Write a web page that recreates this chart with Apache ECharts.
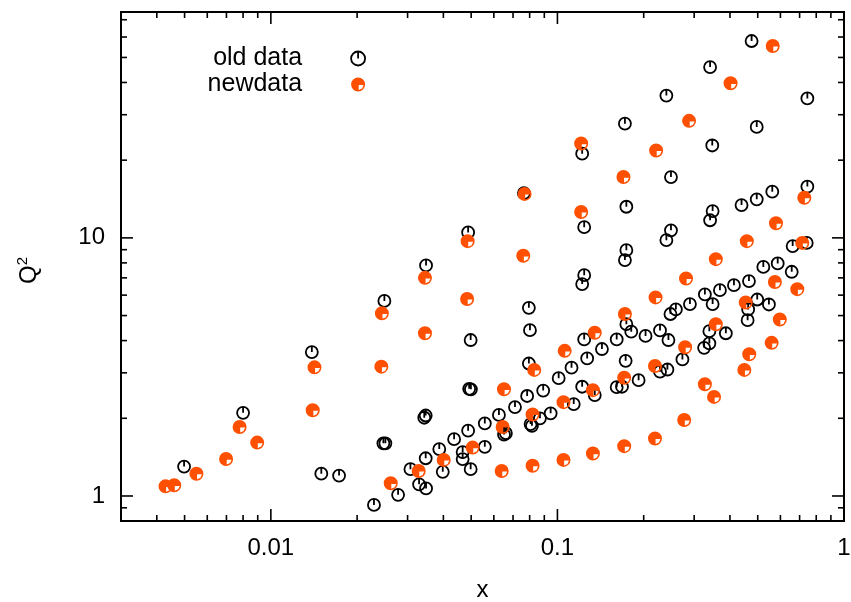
<!DOCTYPE html>
<html><head><meta charset="utf-8">
<script src="https://cdn.jsdelivr.net/npm/echarts@6/dist/echarts.min.js"></script>
<style>html,body{margin:0;padding:0;background:#fff}#c{width:851px;height:602px}</style>
</head><body><div id="c"></div>
<script>
// ---- data ----
const oldX = [0.00498,0.0080,0.0139,0.0150,0.0173,0.0229,0.0247,0.0251,0.0249,0.0278,
  0.0307,0.0329,0.0347,0.0343,0.0347,0.0348,0.0348,0.0387,0.0398,0.0436,
  0.0467,0.0467,0.0488,0.0488,0.0498,0.0498,0.0492,0.0499,0.0558,0.0558,
  0.0625,0.0661,0.0651,0.0711,0.0764,0.0795,0.0802,0.0795,0.0784,0.0806,
  0.0815,0.0869,0.0892,0.0947,0.101,0.112,0.114,0.122,0.124,0.124,
  0.122,0.124,0.127,0.122,0.135,0.143,0.161,0.161,0.168,0.172,
  0.174,0.174,0.172,0.174,0.173,0.181,0.192,0.203,0.228,0.228,
  0.242,0.244,0.240,0.249,0.249,0.240,0.248,0.259,0.273,0.290,
  0.327,0.325,0.339,0.339,0.341,0.347,0.348,0.341,0.348,0.369,
  0.387,0.413,0.439,0.466,0.463,0.461,0.476,0.496,0.496,0.498,
  0.523,0.547,0.562,0.587,0.657,0.662,0.741,0.745,0.745];
const oldQ2 = [1.30,2.10,3.61,1.22,1.20,0.923,1.60,1.60,5.70,1.01,
  1.27,1.11,1.40,2.01,2.05,1.07,7.82,1.52,1.24,1.66,
  1.48,1.39,1.79,10.5,1.27,4.02,2.60,2.59,1.91,1.55,
  2.06,1.75,1.73,2.21,14.9,5.36,4.39,3.26,2.44,1.90,
  1.87,2.00,2.56,2.09,2.86,3.14,2.27,21.2,11.0,7.17,
  6.62,4.04,3.41,2.65,2.46,3.71,4.04,2.64,2.65,27.7,
  13.2,8.96,8.20,4.63,3.34,4.33,2.81,4.17,4.38,3.03,
  3.09,4.02,35.6,17.2,10.7,9.80,5.07,5.28,3.38,5.54,
  6.04,3.75,3.90,4.35,45.9,22.8,12.7,11.7,5.54,6.27,
  4.27,6.56,13.4,6.80,5.28,4.80,57.9,26.9,14.1,5.77,
  7.72,5.52,15.1,7.96,7.39,9.29,9.56,15.8,34.7];
const newX = [0.00429,0.00460,0.00550,0.00698,0.00778,0.00896,0.0140,0.0142,0.0244,0.0243,
  0.0262,0.0328,0.0345,0.0345,0.0401,0.0486,0.0484,0.0506,0.0639,0.0644,
  0.0651,0.0760,0.0768,0.0819,0.0819,0.0830,0.105,0.105,0.106,0.121,
  0.121,0.133,0.135,0.133,0.170,0.171,0.172,0.171,0.219,0.221,
  0.220,0.219,0.277,0.281,0.279,0.288,0.352,0.357,0.357,0.327,
  0.402,0.449,0.454,0.458,0.467,0.564,0.559,0.574,0.579,0.597,
  0.687,0.715,0.727];
const newQ2 = [1.09,1.10,1.22,1.39,1.85,1.61,2.15,3.15,5.10,3.17,
  1.12,1.25,7.00,4.27,1.38,9.71,5.80,1.54,1.25,1.85,
  2.59,8.52,14.8,2.07,1.31,3.08,1.38,2.31,3.65,23.2,
  12.6,1.46,4.29,2.57,17.2,1.56,5.07,2.87,1.67,21.8,
  5.88,3.19,1.97,6.96,3.77,28.4,2.42,8.27,4.63,2.71,
  39.7,3.08,5.62,9.71,3.54,55.4,3.92,6.75,11.4,4.83,
  6.33,9.56,14.3];
const seriesNames = ['old data', 'newdata'];
const xRange = [0.003, 1];
const yRange = [0.8, 75];
const xMajorTicks = [0.01, 0.1, 1];
const xMinorTicks = [0.003,0.004,0.005,0.006,0.007,0.008,0.009,
  0.02,0.03,0.04,0.05,0.06,0.07,0.08,0.09,0.2,0.3,0.4,0.5,0.6,0.7,0.8,0.9];
const yMajorTicks = [1, 10];
const yMinorTicks = [0.8,0.9,2,3,4,5,6,7,8,9,20,30,40,50,60,70];

// ---- chart ----
const zip = (a, b) => a.map((v, i) => [v, b[i]]);
const oldPath = 'path://M0,-6A6,6,0,1,1,0,6A6,6,0,1,1,0,-6ZM0,-6L0,0';
const newPath = 'path://M0,-7A7,7,0,1,1,0,7A7,7,0,1,1,0,-7ZM0.6,0.6L0.6,5.5L4,4L5.5,0.6Z';
const ORANGE = '#ff4f00';
const FONT = '"Liberation Sans", Arial, Helvetica, sans-serif';

const tickData = []
  .concat(xMajorTicks.map(v => [v, yRange[0], 0, 1]))
  .concat(xMinorTicks.map(v => [v, yRange[0], 0, 0]))
  .concat(yMajorTicks.map(v => [xRange[0], v, 1, 1]))
  .concat(yMinorTicks.map(v => [xRange[0], v, 1, 0]));

function isPow10(v) {
  const l = Math.log10(v);
  return Math.abs(l - Math.round(l)) < 1e-6;
}
function fmt(v) { return isPow10(v) ? String(Number(v.toPrecision(6))) : ''; }

const chart = echarts.init(document.getElementById('c'), null, {renderer: 'canvas'});
chart.setOption({
  animation: false,
  backgroundColor: '#fff',
  textStyle: {fontFamily: FONT, color: '#000'},
  grid: {left: 121, right: 7, top: 12, bottom: 81, show: true, borderColor: '#000',
    borderWidth: 2, backgroundColor: 'transparent', containLabel: false, outerBoundsMode: 'none'},
  legend: {
    orient: 'vertical', align: 'right', right: 485, top: 46, padding: 0,
    itemWidth: 14, itemHeight: 14, itemGap: 1,
    selectedMode: false,
    textStyle: {fontSize: 25, fontFamily: FONT, color: '#000', padding: [0, 44, 0, 0]},
    data: [
      {name: seriesNames[0], icon: oldPath,
       itemStyle: {color: 'rgba(0,0,0,0)', borderColor: '#000', borderWidth: 1.8}},
      {name: seriesNames[1], icon: newPath, itemStyle: {color: ORANGE, borderWidth: 0}}
    ]
  },
  xAxis: {
    type: 'log', logBase: 10, min: xRange[0], max: xRange[1],
    name: 'x', nameLocation: 'middle', nameGap: 57,
    nameTextStyle: {fontSize: 24, fontFamily: FONT, color: '#000'},
    axisLine: {show: false}, axisTick: {show: false}, splitLine: {show: false},
    minorTick: {show: false}, minorSplitLine: {show: false},
    axisLabel: {formatter: fmt, fontSize: 24, fontFamily: FONT, color: '#000', margin: 15,
      showMinLabel: true, showMaxLabel: true, hideOverlap: false}
  },
  yAxis: {
    type: 'log', logBase: 10, min: yRange[0], max: yRange[1],
    name: '{q|Q}{s|2}', nameLocation: 'middle', nameGap: 78,
    nameTextStyle: {fontSize: 24, fontFamily: FONT, color: '#000',
      rich: {q: {fontSize: 24, fontFamily: FONT, color: '#000'},
             s: {fontSize: 15, fontFamily: FONT, color: '#000', padding: [0, 8, 13, 0]}}},
    axisLine: {show: false}, axisTick: {show: false}, splitLine: {show: false},
    minorTick: {show: false}, minorSplitLine: {show: false},
    axisLabel: {formatter: fmt, fontSize: 24, fontFamily: FONT, color: '#000', margin: 16,
      showMinLabel: true, showMaxLabel: true, hideOverlap: false}
  },
  series: [
    {
      name: seriesNames[0], type: 'scatter', data: zip(oldX, oldQ2),
      symbol: oldPath, symbolSize: 12, symbolKeepAspect: true, silent: true,
      itemStyle: {color: 'rgba(0,0,0,0)', borderColor: '#000', borderWidth: 1.8, opacity: 1},
      z: 3
    },
    {
      name: seriesNames[1], type: 'scatter', data: zip(newX, newQ2),
      symbol: newPath, symbolSize: 14, symbolKeepAspect: true, silent: true,
      itemStyle: {color: ORANGE, borderWidth: 0, opacity: 1},
      z: 4
    },
    {
      name: 'ticks', type: 'custom', data: tickData, silent: true, z: 5,
      encode: {x: 0, y: 1},
      renderItem: function (params, api) {
        const cs = params.coordSys;
        const isY = api.value(2) === 1;
        const len = api.value(3) === 1 ? 12 : 6;
        const style = {stroke: '#000', lineWidth: 1.6, fill: null};
        if (!isY) {
          const px = api.coord([api.value(0), yRange[0]])[0];
          const b = cs.y + cs.height, t = cs.y;
          return {type: 'group', children: [
            {type: 'line', shape: {x1: px, y1: b, x2: px, y2: b - len}, style: style},
            {type: 'line', shape: {x1: px, y1: t, x2: px, y2: t + len}, style: style}
          ]};
        } else {
          const py = api.coord([xRange[0], api.value(1)])[1];
          const l = cs.x, r = cs.x + cs.width;
          return {type: 'group', children: [
            {type: 'line', shape: {x1: l, y1: py, x2: l + len, y2: py}, style: style},
            {type: 'line', shape: {x1: r, y1: py, x2: r - len, y2: py}, style: style}
          ]};
        }
      }
    }
  ]
});
</script>
</body></html>
